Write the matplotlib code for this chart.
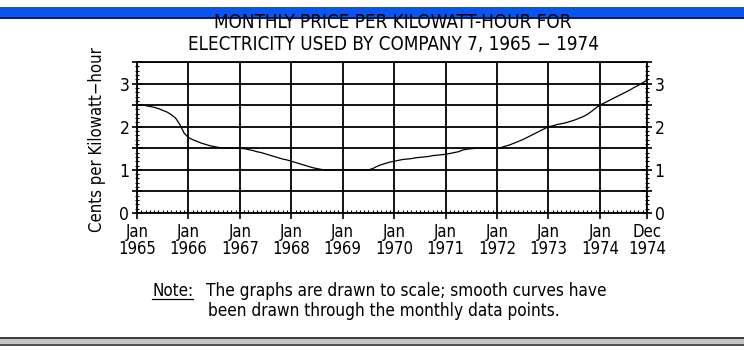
import numpy as np
import matplotlib
matplotlib.use("Agg")
import matplotlib.pyplot as plt
from matplotlib.patches import Rectangle
from matplotlib.lines import Line2D
from matplotlib.ticker import MultipleLocator, FuncFormatter

plt.rcParams['font.family'] = ['DejaVu Sans']
plt.rcParams['font.stretch'] = 'condensed'

# monthly price (cents per kWh), Jan 1965 .. Dec 1974
monthly_price = [
    2.50, 2.50, 2.49, 2.47, 2.45, 2.42, 2.38, 2.34, 2.28, 2.20, 2.05, 1.85,  # 1965
    1.75, 1.70, 1.66, 1.62, 1.59, 1.56, 1.54, 1.52, 1.51, 1.51, 1.50, 1.50,  # 1966
    1.50, 1.49, 1.47, 1.45, 1.42, 1.40, 1.37, 1.34, 1.31, 1.28, 1.25, 1.23,  # 1967
    1.20, 1.17, 1.14, 1.11, 1.08, 1.05, 1.03, 1.01, 1.00, 1.00, 1.00, 1.00,  # 1968
    1.00, 1.00, 1.00, 1.00, 1.00, 1.00, 1.00, 1.03, 1.08, 1.12, 1.15, 1.18,  # 1969
    1.20, 1.22, 1.24, 1.25, 1.26, 1.28, 1.29, 1.30, 1.31, 1.33, 1.34, 1.35,  # 1970
    1.36, 1.38, 1.40, 1.42, 1.46, 1.48, 1.49, 1.50, 1.50, 1.50, 1.50, 1.50,  # 1971
    1.50, 1.52, 1.55, 1.58, 1.62, 1.66, 1.70, 1.75, 1.80, 1.85, 1.90, 1.95,  # 1972
    2.00, 2.02, 2.05, 2.07, 2.09, 2.12, 2.15, 2.19, 2.23, 2.28, 2.35, 2.43,  # 1973
    2.50, 2.55, 2.60, 2.65, 2.70, 2.75, 2.80, 2.85, 2.91, 2.96, 3.02, 3.08,  # 1974
]
months = np.arange(len(monthly_price))

tick_months = [0, 12, 24, 36, 48, 60, 72, 84, 96, 108, 119]
tick_labels = ["Jan\n1965", "Jan\n1966", "Jan\n1967", "Jan\n1968", "Jan\n1969",
               "Jan\n1970", "Jan\n1971", "Jan\n1972", "Jan\n1973", "Jan\n1974",
               "Dec\n1974"]

title = "MONTHLY PRICE PER KILOWATT-HOUR FOR\nELECTRICITY USED BY COMPANY 7, 1965 \u2212 1974"
ylabel = "Cents per Kilowatt\u2212hour"

W, H = 744, 351
fig = plt.figure(figsize=(W / 100, H / 100), dpi=100)

# window decoration bars
fig.patches.append(Rectangle((0, 1 - 17 / H), 1, 10 / H, transform=fig.transFigure,
                             facecolor='#0a55ee', edgecolor='none'))
fig.patches.append(Rectangle((0, 1 - 18.5 / H), 1, 1.5 / H, transform=fig.transFigure,
                             facecolor='#0b1f55', edgecolor='none'))
fig.patches.append(Rectangle((0, 12 / H), 1, 1.8 / H, transform=fig.transFigure,
                             facecolor='#404040', edgecolor='none'))
fig.patches.append(Rectangle((0, 7 / H), 1, 5 / H, transform=fig.transFigure,
                             facecolor='#c4c4c4', edgecolor='none'))
fig.patches.append(Rectangle((0, 5 / H), 1, 2 / H, transform=fig.transFigure,
                             facecolor='#505050', edgecolor='none'))

ax = fig.add_axes([137 / W, 1 - 213 / H, 510 / W, 151 / H])
ax.plot(months, monthly_price, color='black', linewidth=0.9, zorder=3)

ax.set_xlim(0, 119)
ax.set_ylim(0, 3.5)

ax.set_xticks(tick_months)
ax.set_xticklabels(tick_labels, fontsize=12, linespacing=0.98)
ax.xaxis.set_minor_locator(MultipleLocator(1))
ax.yaxis.set_major_locator(MultipleLocator(0.5))
ax.yaxis.set_minor_locator(MultipleLocator(0.1))
ax.yaxis.set_major_formatter(FuncFormatter(lambda v, p: f"{v:.0f}" if abs(v - round(v)) < 1e-6 and v < 3.4 else ""))

ax.tick_params(axis='x', which='major', direction='out', length=4, width=1.2, pad=3, colors='black')
ax.tick_params(axis='x', which='minor', direction='in', length=2.5, width=0.8)
ax.tick_params(axis='y', which='major', direction='inout', length=7, width=1.2,
               labelsize=12.5, pad=2, left=True, right=True, labelleft=True, labelright=True)
ax.tick_params(axis='y', which='minor', direction='inout', length=3, width=0.8,
               left=True, right=True)

ax.grid(True, which='major', color='black', linewidth=1.3)
for s in ax.spines.values():
    s.set_linewidth(1.3)

fig.text(393 / W, 1 - 34 / H, title, ha='center', va='center', fontsize=13.5,
         linespacing=1.2)
fig.text(97 / W, 1 - 140 / H, ylabel, rotation=90, ha='center', va='center', fontsize=12)

# note below the chart
note_y = 1 - 291 / H
note_head = fig.text(152 / W, note_y, "Note:", ha='left', va='center', fontsize=12.2)
fig.text(206 / W, note_y, "The graphs are drawn to scale; smooth curves have",
         ha='left', va='center', fontsize=12.3)
fig.text(208 / W, 1 - 311 / H, "been drawn through the monthly data points.",
         ha='left', va='center', fontsize=12.3)

renderer = fig.canvas.get_renderer()
bb = note_head.get_window_extent(renderer=renderer).transformed(fig.transFigure.inverted())
fig.add_artist(Line2D([bb.x0, bb.x1], [bb.y0 + 1 / H, bb.y0 + 1 / H],
                      transform=fig.transFigure, color='black', linewidth=0.9))

fig.savefig("out.png", dpi=100)
